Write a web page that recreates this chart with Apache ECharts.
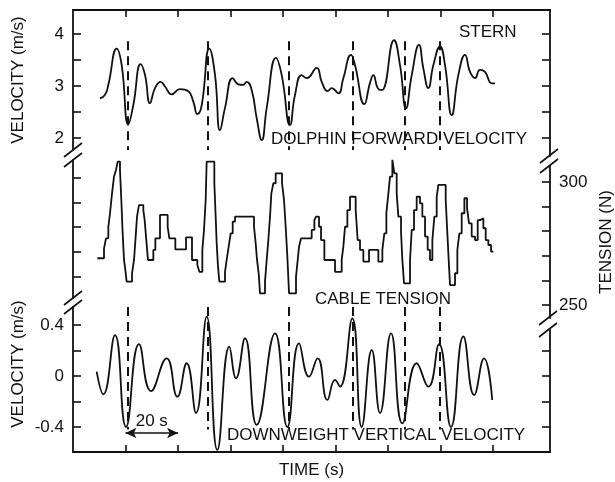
<!DOCTYPE html>
<html><head><meta charset="utf-8">
<script src="https://cdn.jsdelivr.net/npm/echarts@6/dist/echarts.min.js"></script>
<style>html,body{margin:0;padding:0;background:#fff}#c{width:615px;height:482px}</style>
</head><body><div id="c"></div>
<script>
// ---- data ----
const forwardTime = [10.29,12.19,13.45,16.65,18.55,21.07,22.97,25.79,27.43,29.33,31.24,33.41,35.05,37.6,40.76,43.92,45.83,47.35,49.03,51.92,54.1,56.0,57.9,60.84,62.97,64.65,66.17,68.08,69.98,71.89,73.79,77.33,79.5,82.67,84.57,87.12,89.03,92.84,94.74,97.03,98.55,101.07,102.97,105.9,107.43,110.97,113.14,114.4,116.08,117.6,122.29,124.57,126.86,129.03,131.81,133.45,135.35,137.26,139.81,141.71,144.27,146.78,149.33,151.24,153.14,155.05,156.95,159.5,160.76];
const forwardVelocity = [2.76,2.83,3.02,3.72,3.40,2.26,2.63,3.42,3.21,2.67,2.96,3.08,2.99,2.84,2.94,2.90,2.70,2.46,2.63,3.72,3.21,2.15,2.58,3.15,3.03,3.02,3.08,2.92,2.38,1.96,2.58,3.54,3.21,2.25,2.83,3.21,3.15,3.35,3.08,2.90,2.96,2.86,3.15,3.60,3.40,2.65,3.06,3.21,2.96,2.92,3.88,3.40,2.57,3.21,3.79,3.34,2.96,3.40,3.76,3.40,2.44,3.21,3.60,3.27,3.15,3.31,3.27,3.05,3.05];

const tensionTime = [9.27,11.81,12.57,13.46,14.1,14.86,15.62,16.38,17.02,17.9,18.41,18.92,19.43,19.94,20.44,22.48,23.24,23.87,24.38,25.14,26.79,27.3,27.81,28.57,30.6,31.37,33.14,36.06,36.7,38.98,43.05,45.33,47.37,48.13,49.27,49.9,50.54,50.92,53.84,54.35,54.73,55.24,55.75,57.9,58.54,59.3,60.06,60.83,61.71,68.95,69.59,70.1,70.73,71.24,73.14,73.78,74.41,75.05,75.56,76.32,77.21,79.62,80.38,81.02,81.65,82.3,84.95,85.59,86.1,86.86,90.92,91.94,92.57,93.71,94.48,95.75,99.81,102.35,102.98,103.62,104.51,105.52,107.68,108.44,109.33,110.6,112.76,116.32,117.84,118.6,119.37,120.13,120.76,121.65,122.41,123.3,123.94,124.95,125.46,126.1,128.38,129.02,129.9,130.92,132.19,133.08,134.1,135.11,136.0,136.89,137.65,138.54,139.17,141.97,142.6,143.24,143.62,145.52,146.41,147.17,148.06,149.08,150.1,150.86,151.87,153.14,154.16,155.05,156.32,157.21,158.22,159.24,160.13];
const tensionValue = [269.0,273.0,277.1,281.8,287.3,295.4,302.2,304.9,308.3,304.9,292.7,279.1,268.3,264.2,259.5,262.9,268.3,277.8,285.9,290.6,288.6,284.5,277.8,268.3,272.4,277.1,286.6,281.8,277.1,272.6,277.5,268.3,266.3,263.5,272.4,280.5,292.7,308.3,299.5,285.9,275.1,265.6,259.5,263.5,268.3,273.7,279.1,283.9,285.9,281.8,275.1,268.3,262.9,254.7,259.5,268.3,276.4,285.9,295.4,299.5,303.5,299.5,292.7,281.8,269.6,254.7,261.5,268.3,273.7,277.1,280.5,284.5,285.9,281.8,276.4,268.3,263.5,268.3,273.7,281.8,288.6,294.0,288.6,276.4,272.4,267.6,272.4,267.6,272.4,279.1,287.3,295.4,302.2,309.0,303.5,295.4,285.9,279.8,268.3,258.8,268.3,280.5,288.6,294.0,291.3,285.9,277.8,272.4,268.3,276.4,285.9,294.0,298.8,292.7,279.1,265.6,258.1,262.9,272.4,279.1,287.3,293.4,289.3,283.2,277.8,276.4,284.5,285.2,281.2,276.4,274.4,271.7,271.7];

const verticalTime = [9.02,11.56,16.0,20.19,25.14,29.71,35.68,39.75,43.3,46.86,50.92,54.98,59.56,62.1,65.52,69.97,76.95,81.65,86.1,89.9,93.2,96.9,99.8,101.7,106.4,109.97,113.8,116.95,121.14,125.46,130.92,135.37,139.43,144.0,148.7,152.8,156.57,159.7];
const verticalVelocity = [0.034,-0.144,0.32,-0.40,0.25,-0.118,0.139,-0.162,0.10,-0.29,0.465,-0.58,0.23,-0.018,0.296,-0.384,0.335,-0.40,0.256,-0.005,0.139,-0.188,-0.031,-0.084,0.452,-0.40,0.204,-0.29,0.335,-0.371,0.10,-0.084,0.25,-0.40,0.31,-0.149,0.139,-0.188];

const eventTimes = [21.0, 51.2, 82.3, 106.5, 126.5, 139.8];
const scaleBarTimes = [20, 40];
const scaleBarLabel = '20 s';

const timeTicks = [20,40,60,80,100,120,140,160];
const forwardTicks = [2,2.5,3,3.5,4];
const forwardLabels = [2,3,4];
const tensionTicks = [250,260,270,280,290,300];
const tensionLabels = [250,300];
const verticalTicks = [-0.4,-0.2,0,0.2,0.4];
const verticalLabels = [-0.4,0,0.4];
const rightVerticalTicks = [-0.4,-0.2,0,0.2];

// ---- chart ----
const FONT = '"Liberation Sans", Arial, Helvetica, sans-serif';
const FS = 17;
const INK = '#111';
const X_MAX = 181.7;
const T_PX = 2.46;   // pixels per newton on the tension axis

const chart = echarts.init(document.getElementById('c'), null, {renderer: 'canvas'});

const grids = [
  {left: 73, right: 65, top: 10,  height: 140},        // 0 top, left axis
  {left: 73, right: 65, top: 160, height: 138},        // 1 middle, left axis
  {left: 73, right: 65, top: 307, height: 145},        // 2 bottom, left axis
  {left: 73, right: 65, top: 10,  height: 146},        // 3 top, right axis
  {left: 73, right: 65, top: 166, height: 152},        // 4 middle, right axis (tension)
  {left: 73, right: 65, top: 330, height: 122}         // 5 bottom, right axis
].map(g => Object.assign({outerBoundsMode: 'none', containLabel: false}, g));

const lineAx = {show: true, onZero: false, lineStyle: {color: INK, width: 1.8}};
const tickAx = (vals, len) => ({show: true, inside: true, length: len || 8, customValues: vals, lineStyle: {color: INK, width: 1.6}});
const lblAx = (vals) => vals ? {show: true, customValues: vals, color: INK, fontFamily: FONT, fontSize: FS, margin: 9,
  formatter: v => String(Math.round(v * 10) / 10)} : {show: false};

function xAx(i, opts) {
  return Object.assign({type: 'value', gridIndex: i, min: 0, max: X_MAX, show: false,
    axisLine: {show: false, onZero: false}, splitLine: {show: false}, axisLabel: {show: false}}, opts || {});
}
const xAxes = [
  xAx(0, {show: true, position: 'top', axisLine: lineAx, axisTick: tickAx(timeTicks, 7)}),
  xAx(1),
  xAx(2, {show: true, position: 'bottom', axisLine: lineAx, axisTick: tickAx(timeTicks, 7),
    name: 'TIME (s)', nameLocation: 'middle', nameGap: 10,
    nameTextStyle: {color: INK, fontFamily: FONT, fontSize: FS, verticalAlign: 'top'}}),
  xAx(3), xAx(4), xAx(5)
];

function yAx(i, pos, min, max, ticks, labels, extra) {
  return Object.assign({type: 'value', gridIndex: i, position: pos, min: min, max: max,
    axisLine: lineAx, axisTick: tickAx(ticks), axisLabel: lblAx(labels), splitLine: {show: false}}, extra || {});
}
const yAxes = [
  yAx(0, 'left', 4 - (150 - 34) / 52, 4 + 24 / 52, forwardTicks, forwardLabels,
    {name: 'VELOCITY (m/s)', nameLocation: 'middle', nameGap: 46,
     nameTextStyle: {color: INK, fontFamily: FONT, fontSize: FS}}),
  yAx(1, 'left', 300 - 120 / T_PX, 300 + 18 / T_PX, [260,270,280,290,300], null),
  yAx(2, 'left', (376 - 452) / 127.5, (376 - 307) / 127.5, verticalTicks, verticalLabels),
  yAx(3, 'right', 4 + 24 / 52 - 146 / 52, 4 + 24 / 52, forwardTicks, null),
  yAx(4, 'right', 300 - 136 / T_PX, 300 + 16 / T_PX, tensionTicks, tensionLabels,
    {name: 'TENSION (N)', nameLocation: 'middle', nameGap: 46,
     nameTextStyle: {color: INK, fontFamily: FONT, fontSize: FS}}),
  yAx(5, 'right', (376 - 452) / 127.5, (376 - 330) / 127.5, rightVerticalTicks, null)
];

const dash = {color: INK, width: 2, type: [9, 6]};
function eventLines(top, bottom) {
  return eventTimes.map(t => [{coord: [t, top]}, {coord: [t, bottom]}]);
}

const curve = {color: INK, width: 1.8};

const series = [
  {
    type: 'line', xAxisIndex: 0, yAxisIndex: 0, name: 'DOLPHIN FORWARD VELOCITY',
    data: forwardTime.map((t, i) => [t, forwardVelocity[i]]),
    smooth: 0.5, symbol: 'none', lineStyle: curve, clip: false,
    markLine: {silent: true, symbol: ['none', 'none'], label: {show: false}, lineStyle: dash,
      animation: false, data: eventLines(3.86, 4 - (150 - 34) / 52)}
  },
  {
    type: 'line', xAxisIndex: 4, yAxisIndex: 4, name: 'CABLE TENSION',
    data: tensionTime.map((t, i) => [t, tensionValue[i]]),
    step: 'end', symbol: 'none', lineStyle: {color: INK, width: 1.8}, clip: false,
    markLine: {silent: true, symbol: ['none', 'none'], label: {show: false}, lineStyle: dash,
      animation: false, data: eventLines(300 + 30 / T_PX, 300 - 124 / T_PX)}
  },
  {
    type: 'line', xAxisIndex: 2, yAxisIndex: 2, name: 'DOWNWEIGHT VERTICAL VELOCITY',
    data: verticalTime.map((t, i) => [t, verticalVelocity[i]]),
    smooth: 0.5, symbol: 'none', lineStyle: curve, clip: false,
    markLine: {silent: true, symbol: ['none', 'none'], label: {show: false}, lineStyle: dash,
      animation: false,
      data: eventLines((376 - 307) / 127.5, -0.42).concat([[
        {coord: [scaleBarTimes[0], -0.447], symbol: 'arrow', symbolSize: [8, 11],
         lineStyle: {type: 'solid', width: 1.6, color: INK},
         label: {show: true, formatter: scaleBarLabel, position: 'middle', distance: 3,
           color: INK, fontFamily: FONT, fontSize: FS}},
        {coord: [scaleBarTimes[1], -0.447], symbol: 'arrow', symbolSize: [8, 11]}
      ]])}
  }
];

function txt(text, x, y, extra) {
  return Object.assign({type: 'text', x: x, y: y, silent: true, z: 10,
    style: {text: text, fill: INK, font: FS + 'px ' + FONT, verticalAlign: 'middle', align: 'left'}}, extra || {});
}
function slash(cx, cy) {
  return {type: 'line', silent: true, shape: {x1: cx - 9, y1: cy + 7, x2: cx + 9, y2: cy - 7},
    style: {stroke: INK, lineWidth: 1.6}};
}

const graphic = [
  txt('STERN', 459, 32),
  txt('DOLPHIN FORWARD VELOCITY', 271, 139),
  txt('CABLE TENSION', 315, 299),
  txt('DOWNWEIGHT VERTICAL VELOCITY', 227, 435),
  {type: 'text', x: 18, y: 364, rotation: Math.PI / 2, silent: true,
   style: {text: 'VELOCITY (m/s)', fill: INK, font: FS + 'px ' + FONT, align: 'center', verticalAlign: 'middle'}},
  slash(73, 150), slash(73, 160),
  slash(73, 298), slash(73, 307),
  slash(549, 156), slash(549, 166),
  slash(548, 318), slash(548, 330)
];

chart.setOption({
  animation: false,
  backgroundColor: '#fff',
  textStyle: {fontFamily: FONT},
  grid: grids,
  xAxis: xAxes,
  yAxis: yAxes,
  series: series,
  graphic: graphic
});
</script>
</body></html>
